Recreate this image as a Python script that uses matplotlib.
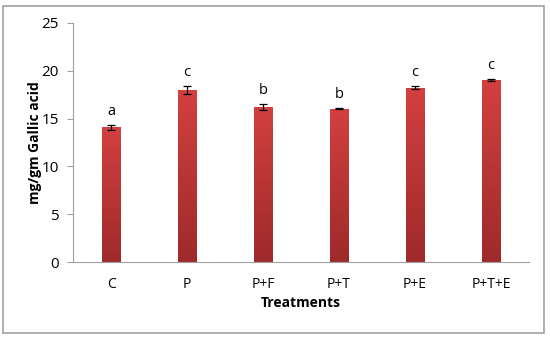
import matplotlib.pyplot as plt
import numpy as np
from matplotlib.patches import Rectangle

treatments = ["C", "P", "P+F", "P+T", "P+E", "P+T+E"]
values = [14.1, 18.0, 16.25, 16.05, 18.25, 19.05]
errors = [0.25, 0.4, 0.3, 0.05, 0.2, 0.1]
letters = ["a", "c", "b", "b", "c", "c"]

plt.rcParams["font.family"] = ["Open Sans", "DejaVu Sans"]

fig = plt.figure(figsize=(5.5, 3.37), dpi=100)
ax = fig.add_axes([73 / 550, 1 - 262 / 337, 456 / 550, 239 / 337])

x = np.arange(len(treatments))
width = 0.25
bars = ax.bar(x, values, width, color="none", edgecolor="none")

# vertical gradient fill for each bar
grad = np.linspace(0, 1, 256).reshape(-1, 1)
cmap = plt.matplotlib.colors.LinearSegmentedColormap.from_list(
    "bar", ["#9e2a2b", "#d34040"])
for b in bars:
    x0, w, h = b.get_x(), b.get_width(), b.get_height()
    im = ax.imshow(grad, extent=[x0, x0 + w, 0, h], origin="lower",
                   cmap=cmap, aspect="auto", zorder=2)
    im.set_clip_path(b)

ax.errorbar(x, values, yerr=errors, fmt="none", ecolor="black",
            elinewidth=0.9, capsize=3, capthick=0.9, zorder=3)

for xi, v, e, l in zip(x, values, errors, letters):
    ax.text(xi, v + e + 0.6, l, ha="center", va="bottom", fontsize=10.5)

ax.set_xlim(-0.5, len(treatments) - 0.5)
ax.set_ylim(0, 25)
ax.set_yticks([0, 5, 10, 15, 20, 25])
ax.set_xticks(x)
ax.set_xticklabels(treatments)
ax.tick_params(axis="x", length=0, pad=11, labelsize=10)
ax.tick_params(axis="y", length=4, color="#a0a0a0", labelsize=11, pad=6)

for s in ["top", "right"]:
    ax.spines[s].set_visible(False)
ax.spines["left"].set_color("#a0a0a0")
ax.spines["bottom"].set_color("#a0a0a0")

ax.set_xlabel("Treatments", fontweight="bold", fontsize=10, labelpad=3)
ax.set_ylabel("mg/gm Gallic acid", fontweight="bold", fontsize=10, labelpad=0)

# outer chart border
fig.patches.append(Rectangle((3 / 550, 4 / 337), 541 / 550, 327 / 337,
                             transform=fig.transFigure, fill=False,
                             edgecolor="#a0a0a0", linewidth=1.2))

fig.savefig("out.png", dpi=100)
